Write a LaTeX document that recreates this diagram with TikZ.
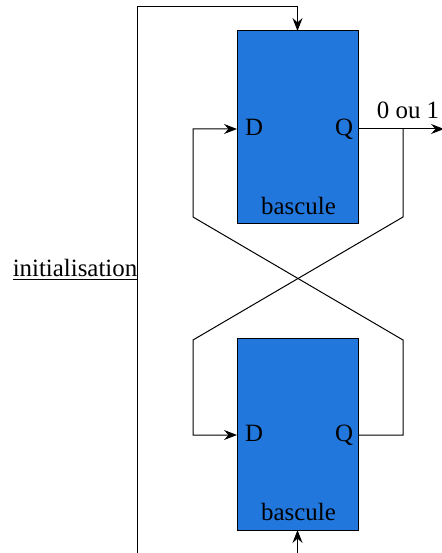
\documentclass[tikz,border=0pt]{standalone}
\usepackage{fontspec}
\setmainfont{Liberation Serif}
\usetikzlibrary{arrows.meta}
\definecolor{boxblue}{HTML}{2277DD}
\tikzset{
  bascule/.style={draw=black,fill=boxblue,line width=1pt,minimum width=121pt,minimum height=192pt,inner sep=0pt,outer sep=0pt},
  txt/.style={anchor=base,inner sep=0pt,outer sep=0pt,font=\fontsize{24.9}{28}\selectfont},
  wire/.style={draw=black,line width=1pt},
  arr/.style={wire,-{Stealth[length=13pt,width=10pt,inset=4.5pt]}}
}
\begin{document}
\begin{tikzpicture}[x=1pt,y=-1pt]
\useasboundingbox (0,0) rectangle (441,553);
\node[bascule] (top) at (297.5,127) {};
\node[bascule] (bot) at (297.5,434) {};
\node[txt] (dt) at (254,136) {D};
\node[txt] (qt) at (344,136) {Q};
\node[txt] (bt) at (298.5,214) {bascule};
\node[txt] (db) at (254,441) {D};
\node[txt] (qb) at (344,441) {Q};
\node[txt] (bb) at (298.5,520) {bascule};
\node[txt] (out) at (408,119) {0 ou 1};
\node[txt] (init) at (75,276) {initialisation};
\coordinate (tq) at (top.east |- 0,129);
\coordinate (td) at (top.west |- 0,129);
\coordinate (bq) at (bot.east |- 0,435);
\coordinate (bd) at (bot.west |- 0,435);
\coordinate (oe) at (444,129);
\coordinate (bus) at (403,129);
\coordinate (ib) at (137,553);
\coordinate (it) at (137,7);
\coordinate (il) at (13,279);
\coordinate (ir) at (137,279);
\coordinate (bi) at (top.north |- 0,553);
\draw[wire] (il) -- (ir);
\draw[arr] (ib) -- (it) -- (it -| top.north) -- (top.north);
\draw[arr] (bi) -- (bot.south);
\draw[arr] (tq) -- (oe);
\draw[arr] (bus) -- (403,217) -- (193,340) -- (193,435) -- (bd);
\draw[arr] (bq) -- (403,435) -- (403,340) -- (193,217) -- (193,129) -- (td);
\end{tikzpicture}
\end{document}
